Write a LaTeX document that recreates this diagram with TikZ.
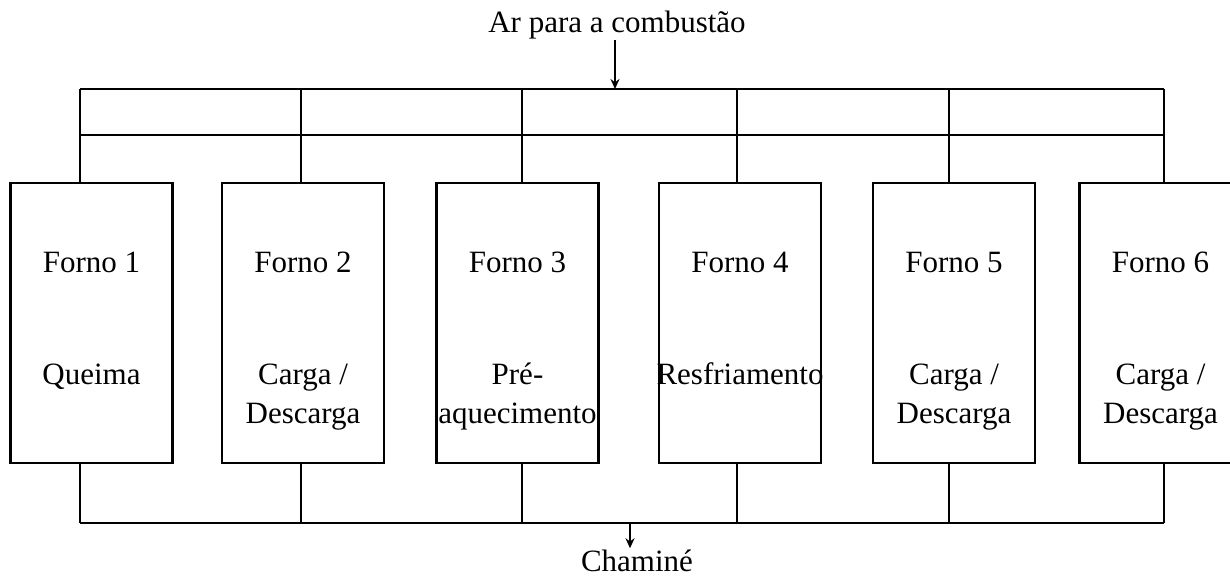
\documentclass[tikz,border=0pt]{standalone}
\usepackage{fontspec}
\setmainfont{Liberation Serif}
\usetikzlibrary{arrows.meta}
\begin{document}
\begin{tikzpicture}[x=1pt,y=-1pt,
  line width=2.4pt,
  furnace/.style={draw, line width=2.6pt, minimum width=162pt, minimum height=280pt, inner sep=0pt},
  lbl/.style={anchor=base, inner sep=0pt, font=\fontsize{31}{38}\selectfont},
  arr/.style={-{Stealth[length=10pt,width=9pt]}, line width=2pt}]
\useasboundingbox (0,0) rectangle (1230,579);
% furnaces
\node[furnace] (f1) at (91.5,323) {};
\node[furnace] (f2) at (303,323) {};
\node[furnace] (f3) at (517.5,323) {};
\node[furnace] (f4) at (740,323) {};
\node[furnace] (f5) at (954,323) {};
\node[furnace] (f6) at (1160.5,323) {};
% labels
\node[lbl] (n1) at (91.5,272) {Forno 1};
\node[lbl] (n2) at (303,272) {Forno 2};
\node[lbl] (n3) at (517.5,272) {Forno 3};
\node[lbl] (n4) at (740,272) {Forno 4};
\node[lbl] (n5) at (954,272) {Forno 5};
\node[lbl] (n6) at (1160.5,272) {Forno 6};
\node[lbl] (s1) at (91.5,384) {Queima};
\node[lbl] (s2) at (303,384) {Carga /};
\node[lbl] (s2b) at (303,423) {Descarga};
\node[lbl] (s3) at (517.5,384) {Pré-};
\node[lbl] (s3b) at (517.5,423) {aquecimento};
\node[lbl] (s4) at (740,384) {Resfriamento};
\node[lbl] (s5) at (954,384) {Carga /};
\node[lbl] (s5b) at (954,423) {Descarga};
\node[lbl] (s6) at (1160.5,384) {Carga /};
\node[lbl] (s6b) at (1160.5,423) {Descarga};
% top manifold
\coordinate (t1) at (80,89);
\coordinate (t2) at (301,89);
\coordinate (t3) at (522,89);
\coordinate (t4) at (737,89);
\coordinate (t5) at (949,89);
\coordinate (t6) at (1164,89);
\coordinate (m1) at (80,135);
\coordinate (m6) at (1164,135);
\draw (t1) -- (t6);
\draw (m1) -- (m6);
\foreach \i in {1,...,6} \draw (t\i) -- (t\i |- f\i.north);
% bottom manifold
\coordinate (b1) at (80,523);
\coordinate (b2) at (301,523);
\coordinate (b3) at (522,523);
\coordinate (b4) at (737,523);
\coordinate (b5) at (949,523);
\coordinate (b6) at (1164,523);
\draw (b1) -- (b6);
\foreach \i in {1,...,6} \draw (b\i) -- (b\i |- f\i.south);
% air inlet
\node[lbl] (air) at (617,32) {Ar para a combustão};
\coordinate (ain) at (615,89);
\draw[arr] (ain |- air.south) -- (ain);
% chimney
\node[lbl] (chim) at (637,571) {Chaminé};
\coordinate (bout) at (630,523);
\draw[arr] (bout) -- (bout |- chim.north);
\end{tikzpicture}
\end{document}
